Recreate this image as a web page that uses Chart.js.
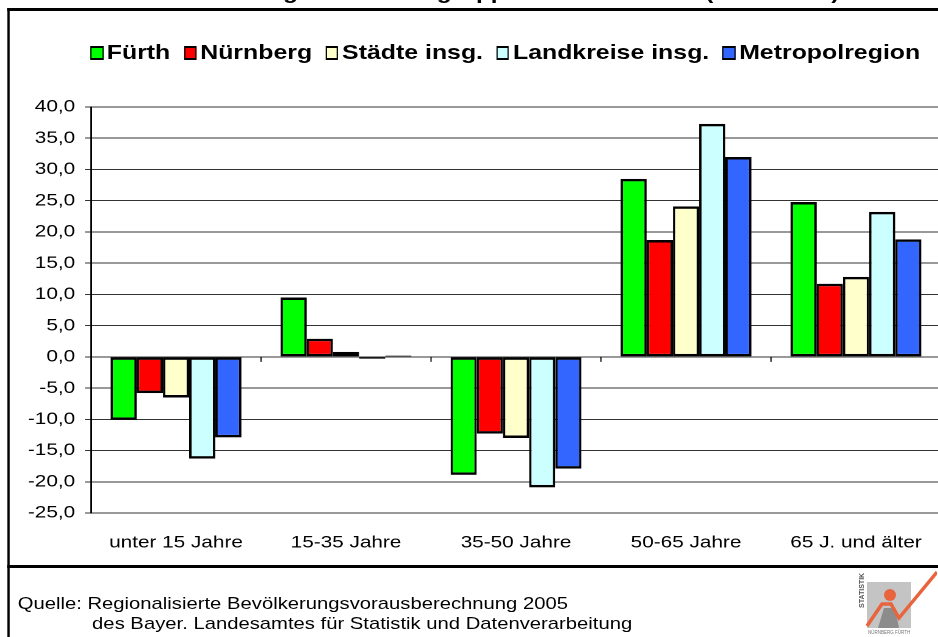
<!DOCTYPE html>
<html>
<head>
<meta charset="utf-8">
<script src="https://cdn.jsdelivr.net/npm/chart.js@4.4.0/dist/chart.umd.min.js"></script>
<style>
html,body{margin:0;padding:0;background:#fff;overflow:hidden;width:938px;height:637px;}
#page{position:absolute;left:0;top:0;width:800px;height:637px;transform:scaleX(1.22);transform-origin:0 0;
  font-family:"Liberation Sans",Arial,sans-serif;color:#000;}
.line{position:absolute;background:#000;}
#title{position:absolute;left:0;width:688px;text-align:right;top:-18px;font-weight:bold;font-size:20px;line-height:20px;white-space:nowrap;}
#legend{position:absolute;left:74px;top:42px;display:flex;align-items:center;font-weight:bold;font-size:20.4px;line-height:21px;white-space:nowrap;}
.item{display:flex;align-items:center;margin-right:11px;}
.box{width:8.5px;height:10px;border-style:solid;border-color:#000;border-width:2px 1.6px;margin-right:3px;}
#wrap{position:absolute;left:8px;top:87px;width:800px;height:478px;}
.foot{position:absolute;font-size:16.6px;line-height:19px;white-space:nowrap;}
#logo{position:absolute;left:853px;top:568px;}
</style>
</head>
<body>
<div id="page">
  <div class="line" style="left:6px;top:8px;width:2px;height:640px"></div>
  <div class="line" style="left:6px;top:8px;width:800px;height:3px"></div>
  <div class="line" style="left:6px;top:565px;width:800px;height:3px"></div>
  <div id="title">Veränderung nach Altersgruppen 2005 bis 2020 (in Prozent)</div>
  <div id="legend"></div>
  <div id="wrap"><canvas id="chart"></canvas></div>
  <div class="foot" style="left:14.5px;top:594px">Quelle: Regionalisierte Bevölkerungsvorausberechnung 2005</div>
  <div class="foot" style="left:75.5px;top:614px">des Bayer. Landesamtes für Statistik und Datenverarbeitung</div>
</div>
<svg id="logo" width="84" height="70">
  <rect x="14" y="14" width="44" height="46" fill="#c4c4c4"/>
  <path d="M25 60 L31 40 L42 40 L46 60 Z" fill="#8c8c8c"/>
  <circle cx="37" cy="27" r="6" fill="#e8643c"/>
  <polyline points="14,58 29,36 38,36 46,50 84,4" stroke="#e8643c" stroke-width="3.5" fill="none"/>
  <text transform="translate(11,40) rotate(-90)" font-size="7" font-weight="bold" fill="#555" font-family="Liberation Sans">STATISTIK</text>
  <text x="15" y="66" font-size="4.5" fill="#777" font-family="Liberation Sans">NÜRNBERG FÜRTH</text>
</svg>
<script>
const categories = ['unter 15 Jahre', '15-35 Jahre', '35-50 Jahre', '50-65 Jahre', '65 J. und älter'];
const seriesNames = ['Fürth', 'Nürnberg', 'Städte insg.', 'Landkreise insg.', 'Metropolregion'];
const fuerth     = [-10.1,  9.5, -18.9, 28.5, 24.8];
const nuernberg  = [ -5.8,  2.9, -12.3, 18.7, 11.7];
const staedte    = [ -6.5,  0.8, -13.0, 24.1, 12.8];
const landkreise = [-16.3, -0.3, -20.9, 37.3, 23.2];
const metropol   = [-12.9,  0.2, -17.9, 32.0, 18.8];
const yTicks = [-25, -20, -15, -10, -5, 0, 5, 10, 15, 20, 25, 30, 35, 40];
const colors = ['#00ff00', '#ff0000', '#ffffcc', '#ccffff', '#3366ff'];

const seriesValues = [fuerth, nuernberg, staedte, landkreise, metropol];

// legend
const legend = document.getElementById('legend');
seriesNames.forEach((name, i) => {
  const item = document.createElement('div');
  item.className = 'item';
  const box = document.createElement('div');
  box.className = 'box';
  box.style.background = colors[i];
  const txt = document.createElement('span');
  txt.textContent = name;
  item.appendChild(box);
  item.appendChild(txt);
  legend.appendChild(item);
});

// small tick marks on the zero line between categories
const zeroTicks = {
  id: 'zeroTicks',
  afterDatasetsDraw(chart){
    const {ctx, scales: {x, y}} = chart;
    const y0 = y.getPixelForValue(0);
    ctx.save();
    ctx.strokeStyle = '#000';
    ctx.lineWidth = 1;
    for(let i = 1; i < categories.length; i++){
      const bx = (x.getPixelForValue(i - 1) + x.getPixelForValue(i)) / 2;
      ctx.beginPath();
      ctx.moveTo(bx, y0);
      ctx.lineTo(bx, y0 + 5);
      ctx.stroke();
    }
    ctx.restore();
  }
};

const font = {family: '"Liberation Sans", Arial, sans-serif', size: 17};

new Chart(document.getElementById('chart'), {
  type: 'bar',
  data: {
    labels: categories,
    datasets: seriesNames.map((name, i) => ({
      label: name,
      data: seriesValues[i],
      backgroundColor: colors[i],
      borderColor: '#000',
      borderWidth: {top: 2.5, bottom: 2.5, left: 2, right: 2},
      borderSkipped: false,
      categoryPercentage: 0.77,
      barPercentage: 1
    }))
  },
  options: {
    responsive: true,
    maintainAspectRatio: false,
    animation: false,
    devicePixelRatio: 2,
    layout: {padding: {top: 20, right: 36.7, bottom: 12, left: 0}},
    plugins: {legend: {display: false}, tooltip: {enabled: false}, title: {display: false}},
    scales: {
      x: {
        grid: {display: false, drawTicks: false, tickLength: 0},
        border: {display: false},
        ticks: {color: '#000', font: font, padding: 19.5, maxRotation: 0, autoSkip: false},
        afterFit(s){ s.height = 40; }
      },
      y: {
        min: -25,
        max: 40,
        afterBuildTicks(s){ s.ticks = yTicks.map(v => ({value: v})); },
        grid: {color: '#333', lineWidth: 1, tickLength: 5, drawTicks: true},
        border: {display: true, color: '#000', width: 1.5},
        ticks: {
          color: '#000', font: font, padding: 8,
          callback: v => v.toFixed(1).replace('.', ',')
        },
        afterFit(s){ s.width = 66.6; }
      }
    }
  },
  plugins: [zeroTicks]
});
</script>
</body>
</html>
